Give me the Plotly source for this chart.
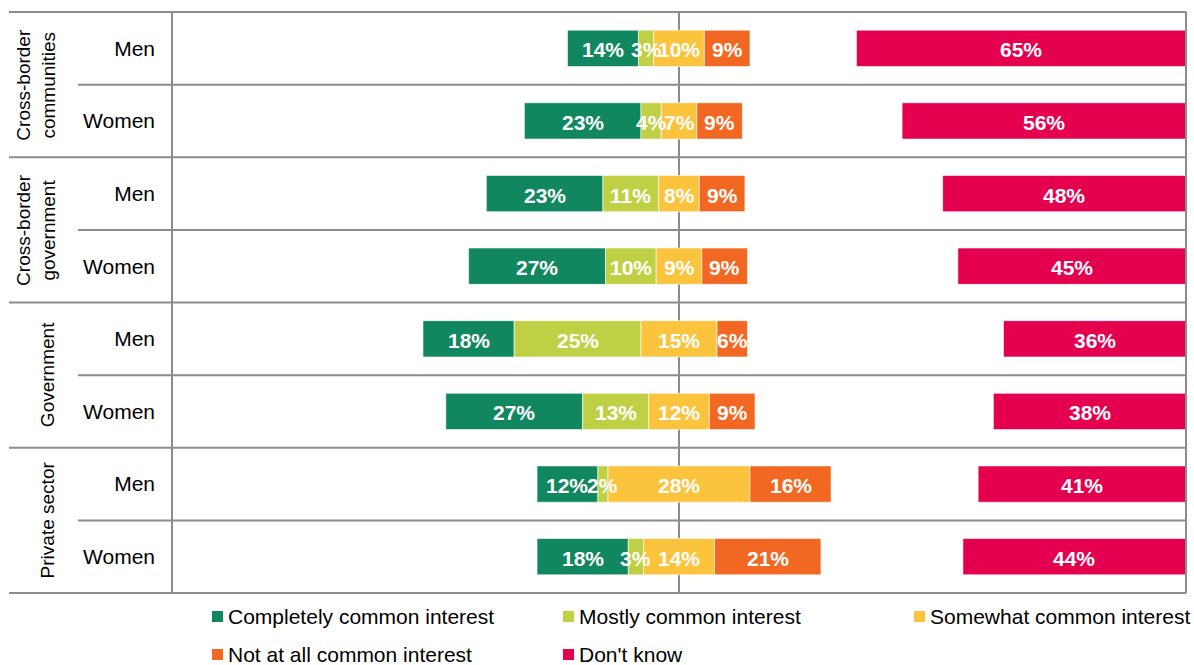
import plotly.graph_objects as go

# ---- data (rows top to bottom) ----
groups = ["Cross-border<br>communities", "Cross-border<br>government", "Government", "Private sector"]
row_labels = ["Men", "Women", "Men", "Women", "Men", "Women", "Men", "Women"]
completely = [14, 23, 23, 27, 18, 27, 12, 18]
mostly = [3, 4, 11, 10, 25, 13, 2, 3]
somewhat = [10, 7, 8, 9, 15, 12, 28, 14]
not_at_all = [9, 9, 9, 9, 6, 9, 16, 21]
dont_know = [65, 56, 48, 45, 36, 38, 41, 44]

series_names = ["Completely common interest", "Mostly common interest", "Somewhat common interest",
                "Not at all common interest", "Don't know"]
colors = ["#10875E", "#BFD044", "#FCC33C", "#F26722", "#E4004F"]

FONT = "Arial, Liberation Sans, sans-serif"
W, H = 1194, 665
L, R, T, B = 172, 8, 12, 72
PW, PH = W - L - R, H - T - B
GRAY = "#8C8C8C"

def px_x(px):
    return (px - L) / PW

def px_y(py):
    return (H - B - py) / PH

n = len(row_labels)
ys = list(range(n))

bases = [
    [-(c + m + s / 2) for c, m, s in zip(completely, mostly, somewhat)],
    [-(m + s / 2) for m, s in zip(mostly, somewhat)],
    [-s / 2 for s in somewhat],
    [s / 2 for s in somewhat],
    [100 - d for d in dont_know],
]
values = [completely, mostly, somewhat, not_at_all, dont_know]

fig = go.Figure()
for name, col, base, vals in zip(series_names, colors, bases, values):
    fig.add_trace(go.Bar(
        y=ys, x=vals, base=base, orientation="h", name=name,
        marker=dict(color=col, line=dict(color="rgba(255,255,255,0.6)", width=1)),
        width=0.5, showlegend=False, hoverinfo="skip",
    ))

fig.update_layout(
    width=W, height=H,
    margin=dict(l=L, r=R, t=T, b=B),
    paper_bgcolor="white", plot_bgcolor="white",
    barmode="overlay",
    font=dict(family=FONT, color="#000000"),
    xaxis=dict(range=[-100, 100], showticklabels=False, showgrid=False, ticks="",
               zeroline=True, zerolinecolor=GRAY, zerolinewidth=2, fixedrange=True),
    yaxis=dict(range=[n - 0.5, -0.5], tickvals=ys, ticktext=row_labels, showgrid=False,
               zeroline=False, ticks="", ticklabelstandoff=16, fixedrange=True,
               tickfont=dict(family=FONT, size=21, color="#000000")),
)

shapes = []
line = dict(color=GRAY, width=2)
# top / bottom borders
shapes.append(dict(type="line", xref="paper", yref="paper", x0=px_x(9), x1=1, y0=1, y1=1, line=line))
shapes.append(dict(type="line", xref="paper", yref="paper", x0=px_x(9), x1=1, y0=0, y1=0, line=line))
# vertical borders
shapes.append(dict(type="line", xref="paper", yref="paper", x0=0, x1=0, y0=0, y1=1, line=line))
shapes.append(dict(type="line", xref="paper", yref="paper", x0=1, x1=1, y0=0, y1=1, line=line))
# separators
for i in range(1, n):
    x0 = px_x(9) if i % 2 == 0 else px_x(78)
    shapes.append(dict(type="line", xref="paper", yref="y", x0=x0, x1=1, y0=i - 0.5, y1=i - 0.5, line=line))

annotations = []
# data labels (drawn above all bars), centred on each segment
for base, vals in zip(bases, values):
    for yy, b, v in zip(ys, base, vals):
        annotations.append(dict(text=f"{v}%", x=b + v / 2, y=yy, xref="x", yref="y",
                                showarrow=False, xanchor="center", yanchor="middle", yshift=-1.5,
                                font=dict(family=FONT, size=21, color="white", weight="bold")))

for gi, g in enumerate(groups):
    xc = 36 if "<br>" in g else 47
    annotations.append(dict(text=g, xref="paper", yref="y", x=px_x(xc), y=2 * gi + 0.5,
                            textangle=-90, showarrow=False, xanchor="center", yanchor="middle",
                            font=dict(family=FONT, size=19, color="#000000")))

# legend (manual)
leg_pos = [(212, 616.5), (563, 616.5), (914, 616.5), (212, 654.5), (563, 654.5)]
for (lx, ly), name, col in zip(leg_pos, series_names, colors):
    shapes.append(dict(type="rect", xref="paper", yref="paper",
                       x0=px_x(lx), x1=px_x(lx + 11), y0=px_y(ly - 5.5), y1=px_y(ly + 5.5),
                       fillcolor=col, line=dict(width=0)))
    annotations.append(dict(text=name, xref="paper", yref="paper", x=px_x(lx + 14), y=px_y(ly),
                            xanchor="left", yanchor="middle", showarrow=False,
                            font=dict(family=FONT, size=21, color="#000000")))

fig.update_layout(shapes=shapes, annotations=annotations)
fig.write_html("out.html", config={"displayModeBar": False},
               post_script="document.body.style.margin='0';document.body.style.padding='0';"
                           "document.body.style.overflow='hidden';")
